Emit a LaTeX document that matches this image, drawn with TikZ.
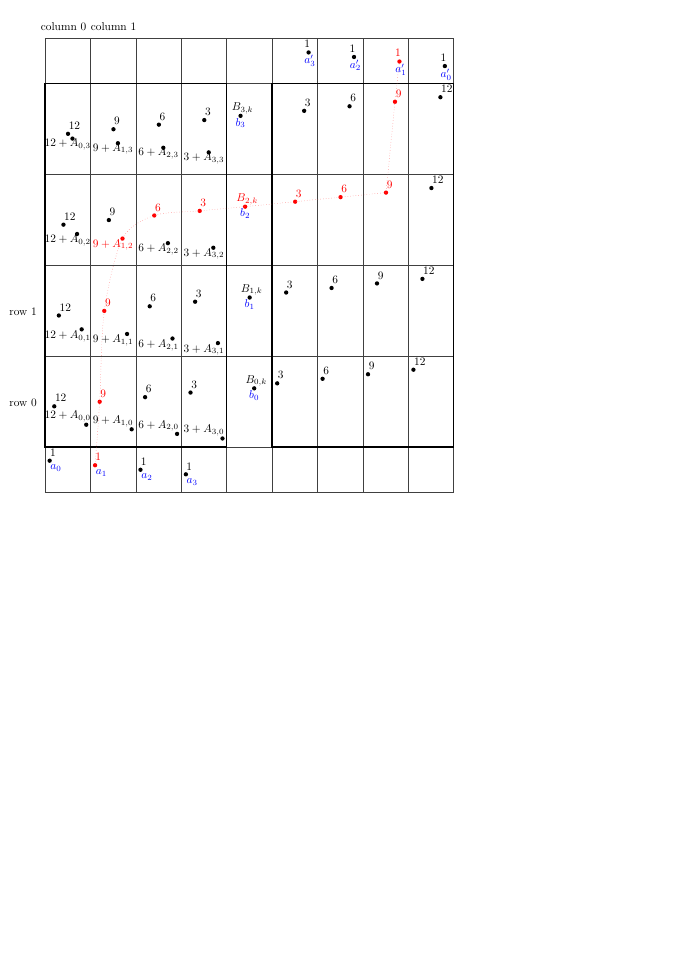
\documentclass[tikz,border=0pt]{standalone}
\usepackage{amsmath}
\usetikzlibrary{positioning}

\tikzset{
    dot/.style={circle, fill, inner sep=0pt, minimum size=3.8pt},
    num/.style={inner sep=1pt},
    idx/.style={inner sep=1pt, blue},
    cell/.style={black!75, line width=0.4pt},
    blk/.style={very thick},
    trace/.style={red!60, dotted, thin},
}

\begin{document}
\begin{tikzpicture}[x=40pt, y=40pt]
    \useasboundingbox (-0.99,-10.21) rectangle (13.89,10.84);

    % 网格
    \foreach \x in {0,...,9} {
        \draw[cell] (\x,0) -- (\x,10);
    }
    \foreach \y in {0,1,3,5,7,9,10} {
        \draw[cell] (0,\y) -- (9,\y);
    }

    % 表头
    \node (col0) at (0.41,10.26) {column 0};
    \node (col1) at (1.51,10.26) {column 1};
    \node[anchor=east] (row1) at (-0.09,3.97) {row 1};
    \node[anchor=east] (row0) at (-0.09,1.96) {row 0};

    % 左块：数值点
    \foreach \i/\j/\c in {0/0/black, 1/0/red, 2/0/black, 3/0/black,
                          0/1/black, 1/1/red, 2/1/black, 3/1/black,
                          0/2/black, 1/2/black, 2/2/red, 3/2/red,
                          0/3/black, 1/3/black, 2/3/black, 3/3/black} {
        \pgfmathtruncatemacro\val{12-3*\i}
        \node[dot, color=\c] (v\i\j) at (0.205+\i+0.101*\j, 1.893+0.101*\i+2*\j) {};
        \node[num, color=\c, above right=1.2pt and -2pt of v\i\j] (vt\i\j) {$\val$};
    }

    % 左块：加 A 的点
    \foreach \i/\j/\c in {0/0/black, 1/0/black, 2/0/black, 3/0/black,
                          0/1/black, 1/1/black, 2/1/black, 3/1/black,
                          0/2/black, 1/2/red, 2/2/black, 3/2/black,
                          0/3/black, 1/3/black, 2/3/black, 3/3/black} {
        \pgfmathtruncatemacro\val{12-3*\i}
        \pgfmathsetmacro\ly{\j==0 ? 1.664 : 1.33+2.11*\j}
        \node[dot, color=\c] (w\i\j) at (0.909+\i-0.101*\j, 1.488-0.101*\i+2.1*\j) {};
        \node[num, color=\c] (wt\i\j) at (0.5+\i, \ly-0.101*\i) {$\val+A_{\i,\j}$};
    }

    % 右块
    \foreach \i/\j/\c in {0/0/black, 1/0/black, 2/0/black, 3/0/black,
                          0/1/black, 1/1/black, 2/1/black, 3/1/black,
                          0/2/red, 1/2/red, 2/2/red, 3/2/black,
                          0/3/black, 1/3/black, 2/3/red, 3/3/black} {
        \pgfmathtruncatemacro\val{3*\i+3}
        \node[dot, color=\c] (r\i\j) at (5.113+\i+0.198*\j, 2.399+0.1*\i+2*\j) {};
        \node[num, color=\c, above right=1.2pt and -2pt of r\i\j] (rt\i\j) {$\val$};
    }

    % B 列
    \foreach \j/\c in {0/black, 1/black, 2/red, 3/black} {
        \node[dot, color=\c] (B\j) at (4.607-0.1*\j, 2.289+2*\j) {};
        \node[num, color=\c, above=-1.5pt of B\j, xshift=1.8pt] (Bt\j) {$B_{\j,k}$};
        \node[idx, below=-1.3pt of B\j] (bt\j) {$b_{\j}$};
    }

    % 底行 a_i
    \foreach \i/\c in {0/black, 1/red, 2/black, 3/black} {
        \node[dot, color=\c] (a\i) at (0.103+\i, 0.696-0.1*\i) {};
        \node[num, color=\c, above right=1.1pt and -2.3pt of a\i] (at\i) {$1$};
        \node[idx, below right=1pt and -2pt of a\i] (ai\i) {$a_{\i}$};
    }

    % 顶行 a'_i
    \foreach \k/\c in {0/black, 1/red, 2/black, 3/black} {
        \node[dot, color=\c] (ap\k) at (8.805-\k, 9.385+0.1*\k) {};
        \node[num, color=\c, above=1pt of ap\k, xshift=-1.3pt] (apt\k) {$1$};
        \node[idx, below=-1pt of ap\k, xshift=1.2pt] (api\k) {$a'_{\k}$};
    }

    % 粗框
    \draw[blk] (0,1) rectangle (4,9);
    \draw[blk] (5,1) rectangle (9,9);

    % 路径
    \draw[trace] (ap1) -- (r23) -- (r22);
    \draw[trace] plot[smooth] coordinates {(r22) (r12) (r02) (B2) (v32) (v22) (w12) (v11) (v10) (a1)};
\end{tikzpicture}
\end{document}
